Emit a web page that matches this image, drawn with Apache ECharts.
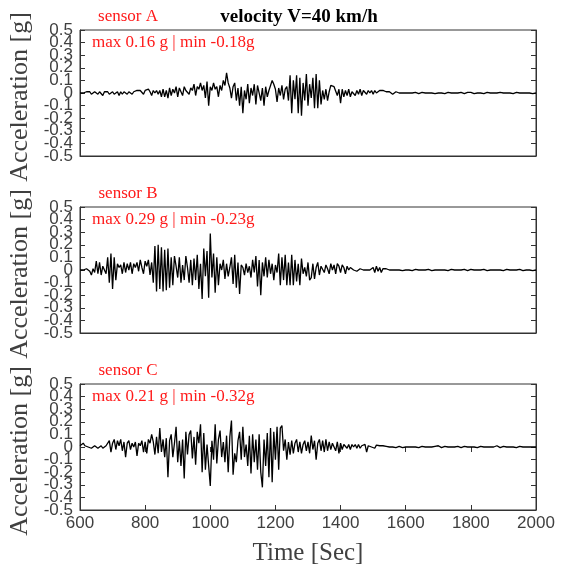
<!DOCTYPE html>
<html>
<head>
<meta charset="utf-8">
<script src="https://cdn.jsdelivr.net/npm/echarts@6/dist/echarts.min.js"></script>
<style>html,body{margin:0;padding:0;background:#fff}#c{width:563px;height:572px}</style>
</head>
<body>
<div id="c"></div>
<script>
// Sampling of the records (seconds)
const T_START = 600, T_STEP = 5;
const xTicks = [600, 800, 1000, 1200, 1400, 1600, 1800, 2000];
const yTicks = [-0.5, -0.4, -0.3, -0.2, -0.1, 0, 0.1, 0.2, 0.3, 0.4, 0.5];
const title = 'velocity V=40 km/h';
const sensorNames = ['sensor A', 'sensor B', 'sensor C'];
const extremesText = ['max 0.16 g | min -0.18g', 'max 0.29 g | min -0.23g', 'max 0.21 g | min -0.32g'];

const sensorA = [
 0.00, 0.01, 0.00,-0.01, 0.01, 0.00, 0.01,-0.01, 0.00, 0.01,
 0.00,-0.01, 0.01, 0.00,-0.02, 0.01, 0.00, 0.01,-0.01, 0.00,
 0.01,-0.01, 0.00, 0.01,-0.02, 0.01,-0.01, 0.01, 0.00,-0.01,
 0.01, 0.02,-0.01, 0.01, 0.00, 0.02, 0.01, 0.02, 0.01,-0.01,
 0.02, 0.01, 0.03, 0.01,-0.02, 0.02, 0.00, 0.02,-0.01, 0.02,
-0.03, 0.03,-0.03, 0.02,-0.04, 0.04,-0.02, 0.03, 0.00, 0.05,
-0.03, 0.04, 0.01,-0.02, 0.05, 0.02, 0.03,-0.01, 0.04, 0.02,
 0.07,-0.02, 0.05, 0.03, 0.08, 0.02, 0.06,-0.04, 0.09,-0.10,
 0.05, 0.02, 0.08, 0.03, 0.05,-0.03, 0.06, 0.02, 0.10, 0.06,
 0.16, 0.08, 0.04,-0.04, 0.05, 0.08,-0.06, 0.04,-0.10, 0.05,
-0.16, 0.02,-0.05, 0.07,-0.08, 0.04,-0.02, 0.07,-0.09, 0.06,
 0.07,-0.06, 0.04,-0.10, 0.05,-0.03, 0.02, 0.06, 0.10, 0.07,
 0.03,-0.07, 0.04,-0.02, 0.06,-0.05, 0.03, 0.05,-0.06, 0.14,
-0.16, 0.10,-0.05, 0.14,-0.16, 0.12,-0.18, 0.08,-0.06, 0.15,
-0.10, 0.07,-0.04, 0.12,-0.12, 0.15,-0.12, 0.10,-0.09, 0.02,
-0.05, 0.03,-0.06, 0.01, 0.06, 0.06, 0.05, 0.05,-0.02, 0.03,
-0.08, 0.03,-0.03, 0.02,-0.02, 0.03,-0.03, 0.01, 0.02,-0.02,
 0.02,-0.01, 0.03,-0.02, 0.02, 0.01,-0.01, 0.02, 0.00, 0.02,
-0.01, 0.02, 0.00, 0.01, 0.02, 0.01, 0.02, 0.01, 0.01, 0.00,
 0.01, 0.00,-0.01, 0.00, 0.01, 0.00, 0.00,-0.01, 0.00, 0.01,
 0.000, 0.005, 0.000,-0.005, 0.000, 0.000, 0.005, 0.000,-0.005, 0.000, 0.005, 0.000, 0.000,-0.005, 0.000, 0.005, 0.000, 0.000,-0.005, 0.000,
 0.000, 0.005, 0.000, 0.000,-0.005, 0.000, 0.005, 0.000, 0.000, 0.005, 0.000,-0.005, 0.000, 0.000, 0.005, 0.000,-0.005, 0.000, 0.005, 0.000,
 0.005, 0.000,-0.005, 0.000, 0.000, 0.005, 0.000, 0.000,-0.005, 0.000, 0.005, 0.000, 0.000, 0.005, 0.000,-0.005, 0.000, 0.000, 0.005, 0.000,
 0.000,-0.005, 0.000, 0.005, 0.000, 0.000,-0.005, 0.000, 0.005, 0.000, 0.000, 0.005, 0.000,-0.005, 0.000, 0.005, 0.000, 0.000,-0.005, 0.000,
 0.000
];

const sensorB = [
 0.00, 0.01, 0.00, 0.01, 0.01, 0.01,-0.01,-0.04, 0.01,-0.02,
 0.07,-0.03, 0.06,-0.04, 0.03, 0.00,-0.03, 0.10,-0.10, 0.13,
-0.15, 0.10,-0.08, 0.05, 0.02, 0.04,-0.03, 0.06,-0.02, 0.05,
 0.00, 0.06,-0.03, 0.05, 0.02, 0.06,-0.01, 0.08, 0.02,-0.03,
 0.07, 0.03, 0.08,-0.04, 0.06,-0.10, 0.19,-0.17, 0.20,-0.15,
 0.18,-0.17, 0.16,-0.16, 0.17,-0.14, 0.10,-0.12, 0.11, 0.03,
-0.06, 0.10,-0.10, 0.04,-0.08, 0.11, 0.02,-0.10, 0.08,-0.12,
 0.09,-0.08, 0.12,-0.15, 0.05,-0.23, 0.17,-0.05, 0.15,-0.22,
 0.29,-0.06, 0.13,-0.18, 0.10,-0.12, 0.05, 0.00, 0.08,-0.07,
 0.05,-0.05, 0.02, 0.10,-0.11, 0.12,-0.14, 0.06,-0.19, 0.04,
 0.02,-0.04, 0.05,-0.02, 0.03,-0.06, 0.08,-0.02, 0.11,-0.13,
 0.08,-0.20, 0.06,-0.05, 0.10,-0.06, 0.08,-0.03, 0.05,-0.08,
 0.04,-0.02, 0.13,-0.12, 0.10,-0.08, 0.12,-0.12, 0.06,-0.12,
 0.12,-0.12, 0.08,-0.09, 0.05,-0.12, 0.09,-0.03, 0.02,-0.05,
 0.06,-0.08,-0.06, 0.05,-0.07, 0.02, 0.06,-0.04, 0.03, 0.04,
-0.02, 0.04, 0.01,-0.03, 0.05, 0.00, 0.04,-0.03, 0.05, 0.03,
-0.02, 0.04, 0.02,-0.03, 0.03, 0.00, 0.02, 0.01, 0.00, 0.01,
-0.01, 0.00, 0.01, 0.01, 0.00,-0.01, 0.00, 0.01, 0.00,-0.01,
 0.02,-0.02, 0.03,-0.01, 0.02,-0.02, 0.01, 0.00, 0.01, 0.00,
 0.00, 0.005, 0.00,-0.005, 0.00, 0.005, 0.00, 0.00,-0.005, 0.00,
 0.000, 0.005, 0.000, 0.000,-0.005, 0.000, 0.005, 0.000, 0.000,-0.005, 0.000, 0.005, 0.000, 0.000, 0.005, 0.000,-0.005, 0.000, 0.000, 0.005,
 0.000,-0.005, 0.000, 0.005, 0.000, 0.000,-0.005, 0.000, 0.005, 0.000, 0.000, 0.005, 0.000,-0.005, 0.000, 0.000, 0.005, 0.000,-0.005, 0.000,
 0.005, 0.000, 0.000,-0.005, 0.000, 0.005, 0.000, 0.000, 0.005, 0.000,-0.005, 0.000, 0.000, 0.005, 0.000,-0.005, 0.000, 0.005, 0.000, 0.000,
-0.005, 0.000, 0.005, 0.000, 0.000,-0.005, 0.000, 0.005, 0.000, 0.000, 0.005, 0.000,-0.005, 0.000, 0.000, 0.005, 0.000, 0.000,-0.005, 0.000,
 0.000
];

const sensorC = [
 0.01, 0.02, 0.03, 0.01, 0.02, 0.00, 0.01,-0.01, 0.00, 0.01,
 0.00,-0.01, 0.00, 0.01,-0.01, 0.00, 0.01, 0.00, 0.05,-0.04,
 0.03, 0.06,-0.02, 0.05, 0.01, 0.06,-0.03, 0.04,-0.08, 0.03,
 0.05,-0.02, 0.03, 0.00, 0.04,-0.07, 0.03, 0.01, 0.05,-0.04,
 0.04,-0.05, 0.06, 0.03, 0.10, 0.04,-0.06, 0.08,-0.05, 0.15,
-0.04, 0.06,-0.08, 0.07,-0.24, 0.05, 0.10,-0.08, 0.03, 0.16,
-0.12, 0.05,-0.15, 0.06,-0.25, 0.12,-0.06, 0.10, 0.13,-0.09,
 0.08,-0.14, 0.12, 0.03, 0.18,-0.20, 0.11,-0.18, 0.02,-0.15,
-0.31, 0.05,-0.10, 0.18,-0.13, 0.06, 0.13,-0.08, 0.04,-0.12,
 0.09,-0.20, 0.08, 0.21,-0.22,-0.05,-0.12, 0.05, 0.12,-0.10,
 0.16,-0.08, 0.02,-0.15, 0.09,-0.21, 0.10,-0.12, 0.06,-0.18,
 0.10,-0.20,-0.32, 0.06,-0.15, 0.11,-0.24, 0.15,-0.28, 0.12,
-0.10, 0.16,-0.18, 0.15, 0.17,-0.03, 0.06,-0.10, 0.04,-0.06,
 0.05,-0.05, 0.03, 0.06,-0.04, 0.04,-0.05, 0.02, 0.05,-0.03,
 0.04,-0.05, 0.09,-0.02, 0.05,-0.10, 0.03, 0.06,-0.03, 0.05,
-0.04, 0.06,-0.03, 0.04,-0.02, 0.03, 0.02,-0.03, 0.04,-0.05,
 0.03,-0.02, 0.02, 0.03,-0.01, 0.02,-0.02, 0.02, 0.00, 0.02,
-0.01, 0.02,-0.01, 0.01, 0.00, 0.02,-0.04, 0.01, 0.02, 0.00,
 0.01,-0.01, 0.015, 0.00, 0.01,-0.005, 0.01, 0.00, 0.005,-0.005,
 0.00,-0.005, 0.00, 0.005,-0.005, 0.00, 0.005, 0.00,-0.005, 0.00,
 0.000, 0.005, 0.000,-0.005, 0.000, 0.005, 0.000, 0.000,-0.005, 0.000, 0.005, 0.000, 0.000,-0.005, 0.000, 0.005, 0.000, 0.000, 0.005, 0.000,
 0.010, 0.000,-0.005, 0.000, 0.005, 0.000, 0.000,-0.005, 0.000, 0.005, 0.000, 0.000, 0.005, 0.000,-0.005, 0.000, 0.005, 0.010, 0.000,-0.005,
 0.000, 0.005, 0.000, 0.000,-0.005, 0.000, 0.005, 0.000, 0.000, 0.005, 0.000,-0.005, 0.000, 0.005, 0.000, 0.000, 0.010, 0.000,-0.005, 0.000,
 0.005, 0.000, 0.000,-0.005, 0.000, 0.005, 0.000, 0.000,-0.005, 0.000, 0.005, 0.000, 0.000, 0.005, 0.000,-0.005, 0.000, 0.005, 0.000, 0.000,
 0.000
];

const series3 = [sensorA, sensorB, sensorC];
function pairs(arr) { return arr.map((v, i) => [T_START + T_STEP * i, v]); }
// tick labels split into two interleaved sets so none get suppressed as overlapping
const yLabelsOdd = yTicks.filter((v, i) => i % 2 === 0);
const yLabelsEven = yTicks.filter((v, i) => i % 2 === 1);

const gridTops = [30, 207, 384];
const GRID_LEFT = 80, GRID_W = 456, GRID_H = 126;
const AX = '#333333', TXT = '#404040';
const serif = '"Liberation Serif","Times New Roman",serif';
const sans = '"Liberation Sans",Arial,sans-serif';
const yFmt = v => String(Math.round(v * 10) / 10);

const grids = [], xAxes = [], yAxes = [], series = [], graphics = [];
const yMainIndex = [];
for (let k = 0; k < 3; k++) {
  const isLast = k === 2;
  grids.push({ left: GRID_LEFT, top: gridTops[k], width: GRID_W, height: GRID_H,
    show: true, borderColor: AX, borderWidth: 1, backgroundColor: 'transparent',
    containLabel: false, outerBoundsMode: 'none' });
  xAxes.push({ type: 'value', gridIndex: k, min: xTicks[0], max: xTicks[xTicks.length - 1], interval: 200,
    position: 'bottom',
    axisLine: { show: true, onZero: false, lineStyle: { color: AX, width: 1 } },
    axisTick: { show: isLast, inside: true, length: 5, lineStyle: { color: AX } },
    axisLabel: { show: isLast, color: TXT, fontFamily: sans, fontSize: 17, margin: 5,
      showMinLabel: true, showMaxLabel: true, formatter: v => String(v) },
    splitLine: { show: false },
    name: isLast ? 'Time [Sec]' : '', nameLocation: 'middle', nameGap: 31,
    nameTextStyle: { fontFamily: serif, fontSize: 25, color: TXT } });
  if (isLast) {
    xAxes.push({ type: 'value', gridIndex: k, min: 600, max: 2000, interval: 200, position: 'top',
      axisLine: { show: false }, axisTick: { show: true, inside: true, length: 5, lineStyle: { color: AX } },
      axisLabel: { show: false }, splitLine: { show: false } });
  }
  yMainIndex.push(yAxes.length);
  yAxes.push({ type: 'value', gridIndex: k, min: yTicks[0], max: yTicks[yTicks.length - 1], interval: 0.1,
    position: 'left',
    axisLine: { show: true, onZero: false, lineStyle: { color: AX, width: 1 } },
    axisTick: { show: true, inside: true, length: 5, lineStyle: { color: AX } },
    axisLabel: { show: true, color: TXT, fontFamily: sans, fontSize: 17, margin: 7,
      customValues: yLabelsOdd, showMinLabel: true, showMaxLabel: true, hideOverlap: false, formatter: yFmt },
    splitLine: { show: false },
    name: 'Acceleration [g]', nameLocation: 'middle', nameGap: 40,
    nameTextStyle: { fontFamily: serif, fontSize: 26, color: TXT, padding: [0, 8, 0, 0] } });
  yAxes.push({ type: 'value', gridIndex: k, min: yTicks[0], max: yTicks[yTicks.length - 1], interval: 0.1,
    position: 'left', offset: 0,
    axisLine: { show: false, onZero: false }, axisTick: { show: false },
    axisLabel: { show: true, color: TXT, fontFamily: sans, fontSize: 17, margin: 7,
      customValues: yLabelsEven, hideOverlap: false, formatter: yFmt },
    splitLine: { show: false } });
  yAxes.push({ type: 'value', gridIndex: k, min: -0.5, max: 0.5, interval: 0.1, position: 'right',
    axisLine: { show: true, onZero: false, lineStyle: { color: AX, width: 1 } },
    axisTick: { show: true, inside: true, length: 5, lineStyle: { color: AX } },
    axisLabel: { show: false }, splitLine: { show: false } });
}
const xIndexFor = [0, 1, 2];
for (let k = 0; k < 3; k++) {
  series.push({ type: 'line', xAxisIndex: xIndexFor[k], yAxisIndex: yMainIndex[k], data: pairs(series3[k]),
    showSymbol: false, symbol: 'none', animation: false,
    lineStyle: { color: '#000000', width: 1.3 }, z: 3 });
  const top = gridTops[k];
  graphics.push({ type: 'text', x: 128, y: top - 13, style: { text: sensorNames[k], fill: '#ff1a1a',
    font: '17px ' + serif, textAlign: 'center', textVerticalAlign: 'middle' } });
  graphics.push({ type: 'text', x: 92, y: top + 13, style: { text: extremesText[k], fill: '#ff1a1a',
    font: '17px ' + serif, textAlign: 'left', textVerticalAlign: 'middle' } });
}
graphics.push({ type: 'text', x: 299, y: 17, style: { text: title, fill: '#000',
  font: 'bold 19px ' + serif, textAlign: 'center', textVerticalAlign: 'middle' } });

const chart = echarts.init(document.getElementById('c'), null, { renderer: 'canvas' });
chart.setOption({
  animation: false,
  backgroundColor: '#ffffff',
  grid: grids, xAxis: xAxes, yAxis: yAxes, series: series, graphic: graphics
});
</script>
</body>
</html>
